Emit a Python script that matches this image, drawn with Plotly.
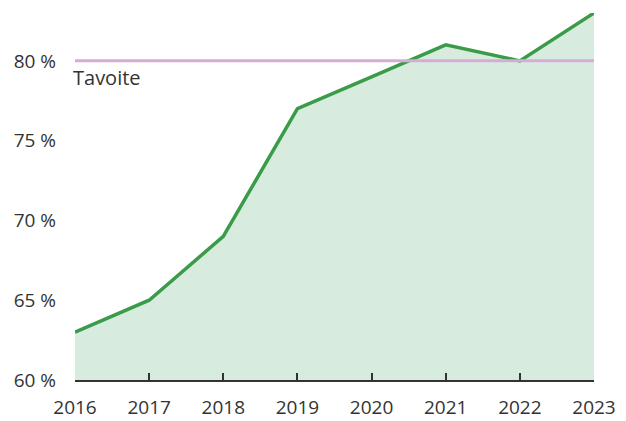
import plotly.graph_objects as go

# Data
years = [2016, 2017, 2018, 2019, 2020, 2021, 2022, 2023]
share = [63, 65, 69, 77, 79, 81, 80, 83]
target = 80
target_label = "Tavoite"
y_ticks = [60, 65, 70, 75, 80]
y_tick_labels = ["60 %", "65 %", "70 %", "75 %", "80 %"]

fig = go.Figure()

# Filled area + line
fig.add_trace(go.Scatter(
    x=years, y=share,
    mode="lines",
    line=dict(color="#3a9b48", width=3.5),
    fill="tozeroy",
    fillcolor="#d7ecdf",
    showlegend=False,
    hoverinfo="skip",
))

# Target line
fig.add_trace(go.Scatter(
    x=[years[0], years[-1]], y=[target, target],
    mode="lines",
    line=dict(color="#d6acd6", width=3),
    showlegend=False,
    hoverinfo="skip",
))

fig.add_annotation(
    x=years[0], y=target, xref="x", yref="y",
    text=target_label, showarrow=False,
    xanchor="left", yanchor="top", xshift=-4, yshift=-1,
    font=dict(size=20, color="#333333"),
)

# page body has an 8px margin, so the figure is a bit smaller than the window
fig.update_layout(
    width=618, height=413,
    margin=dict(l=67, r=32, t=5, b=41),
    paper_bgcolor="white",
    plot_bgcolor="white",
    font=dict(family="Open Sans, Noto Sans, sans-serif", size=19, color="#333333"),
    showlegend=False,
)

fig.update_xaxes(
    range=[years[0], years[-1]],
    tickvals=years,
    showgrid=False, zeroline=False,
    showline=True, linecolor="#333333", linewidth=1.5,
    ticks="inside", ticklen=7, tickcolor="#333333", tickwidth=1.5,
    ticklabelstandoff=9,
    automargin=False,
)

fig.update_yaxes(
    range=[60, 83],
    tickvals=y_ticks, ticktext=y_tick_labels,
    showgrid=False, zeroline=False, showline=False,
    ticklabelstandoff=18,
    automargin=False,
)

fig.write_html("out.html")
